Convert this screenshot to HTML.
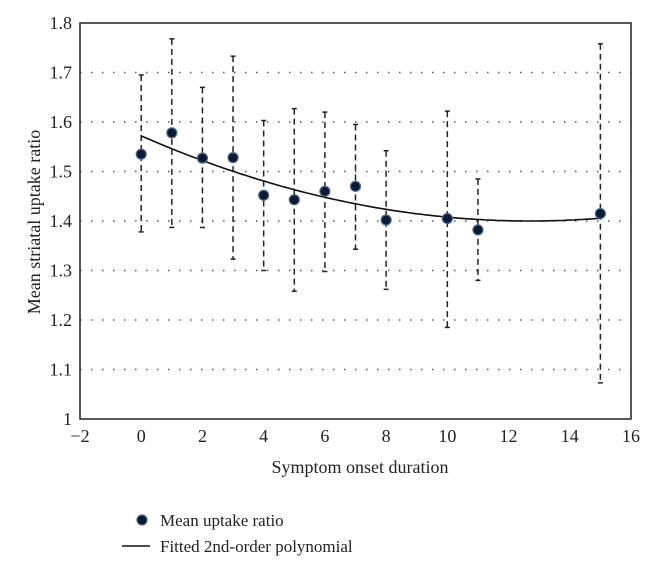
<!DOCTYPE html>
<html><head><meta charset="utf-8"><style>
body{margin:0;background:#fff;}
svg text{font-family:"Liberation Serif",serif;fill:#222;}
</style></head><body>
<svg width="654" height="572">
<g id="grid"></g>
<g id="marks"></g>
<g id="axes"></g>
<text x="360" y="473" text-anchor="middle" font-size="18">Symptom onset duration</text>
<text transform="translate(40,222) rotate(-90)" text-anchor="middle" font-size="18">Mean striatal uptake ratio</text>
<g>
<g>
<circle cx="142" cy="520" r="5" fill="#0d1a33" stroke="#4a6a8a" stroke-width="1.2"/>
<text x="160" y="526" font-size="17">Mean uptake ratio</text></g>
<g>
<line x1="122" y1="546" x2="150" y2="546" stroke="#111" stroke-width="1.5"/>
<text x="160" y="552" font-size="17">Fitted 2nd-order polynomial</text></g>
</g>
</svg>
<script>
const xs=[0,1,2,3,4,5,6,7,8,10,11,15];
const means=[1.535,1.578,1.527,1.528,1.452,1.443,1.460,1.470,1.402,1.405,1.382,1.415];
const highs=[1.695,1.768,1.670,1.733,1.603,1.627,1.620,1.595,1.542,1.622,1.485,1.758];
const lows=[1.378,1.387,1.387,1.323,1.300,1.258,1.298,1.343,1.262,1.185,1.280,1.073];
const fitCoef=[1.572,-0.02708,0.001066];
const xTicks=[-2,0,2,4,6,8,10,12,14,16];
const yTicks=[1,1.1,1.2,1.3,1.4,1.5,1.6,1.7,1.8];
const L=80,R=631,T=23,B=419;
const sx=v=>L+(v+2)/18*(R-L);
const sy=v=>B-(v-1)/0.8*(B-T);
const NS='http://www.w3.org/2000/svg';
function mk(p,t,a){const e=document.createElementNS(NS,t);for(const k in a)e.setAttribute(k,a[k]);p.appendChild(e);return e;}
const grid=document.getElementById('grid'),marks=document.getElementById('marks'),axes=document.getElementById('axes');
yTicks.forEach(v=>{
 if(v>1&&v<1.8){const g=mk(grid,'line',{x1:L,x2:R,y1:sy(v),y2:sy(v),stroke:'#555','stroke-width':1.4,'stroke-dasharray':'1.5 9.5'});
 
 }
 const t=mk(axes,'text',{x:L-8,y:sy(v)+6,'text-anchor':'end','font-size':18});t.textContent=String(v);
 
 
});
xTicks.forEach(v=>{
 const t=mk(axes,'text',{x:sx(v),y:B+23,'text-anchor':'middle','font-size':18});t.textContent=v<0?'\u2212'+(-v):String(v);
 
 
});
const fr=mk(axes,'rect',{x:L,y:T,width:R-L,height:B-T,fill:'none',stroke:'#222','stroke-width':1.5});


xs.forEach((x,i)=>{
 const X=sx(x);
 const e=mk(marks,'line',{x1:X,x2:X,y1:sy(highs[i]),y2:sy(lows[i]),stroke:'#222','stroke-width':1.5,'stroke-dasharray':'6 4'});
 
 
 [highs[i],lows[i]].forEach(v=>{const c=mk(marks,'line',{x1:X-2.5,x2:X+2.5,y1:sy(v),y2:sy(v),stroke:'#222','stroke-width':1.5});
 
 });
});
let d='';for(let x=0;x<=15.001;x+=0.1){const y=fitCoef[0]+fitCoef[1]*x+fitCoef[2]*x*x;d+=(d?'L':'M')+sx(x).toFixed(1)+','+sy(y).toFixed(1);}
const fl=mk(marks,'path',{d:d,fill:'none',stroke:'#111','stroke-width':1.6});


xs.forEach((x,i)=>{
 const c=mk(marks,'circle',{cx:sx(x),cy:sy(means[i]),r:5,fill:'#0d1a33',stroke:'#4a6a8a','stroke-width':1.2});
 
 
});
</script>
</body></html>
